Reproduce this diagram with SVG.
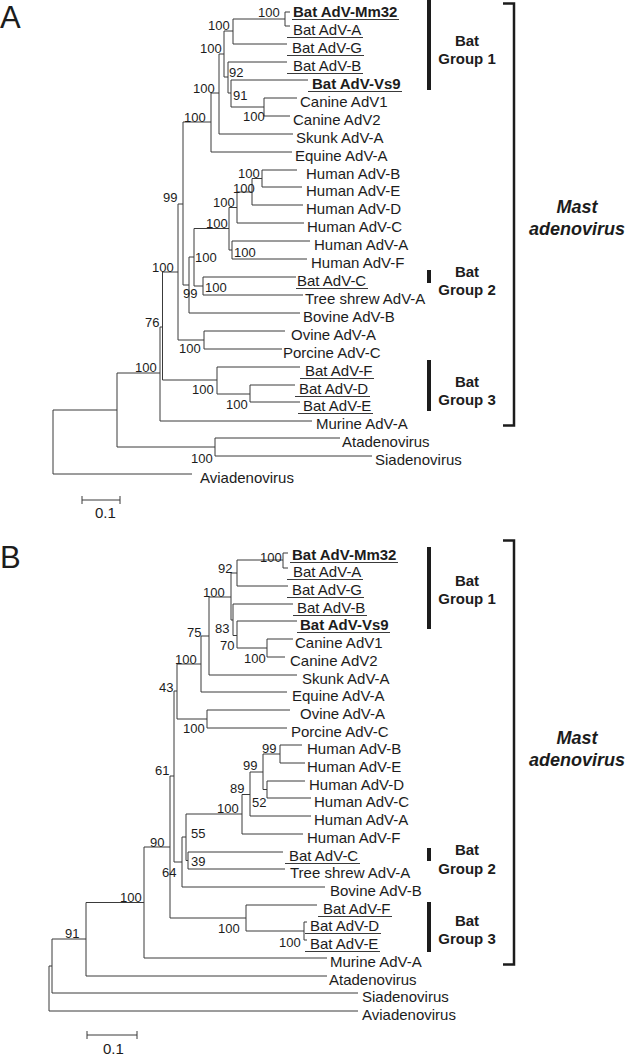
<svg xmlns="http://www.w3.org/2000/svg" width="625" height="1055" viewBox="0 0 625 1055">
<style>
text{font-family:"Liberation Sans",Arial,sans-serif;fill:#1c1c1c}
.l{font-size:15px}
.lb{font-size:15px;font-weight:bold}
.bs{font-size:13px}
.g{font-size:15px;font-weight:bold;text-anchor:middle}
.m{font-size:18px;font-weight:bold;font-style:italic;text-anchor:middle}
.p{font-size:31px}
.br{fill:none;stroke:#3a3a3a;stroke-width:1}
.ul{stroke:#3a3a3a;stroke-width:1}
.bar{fill:#1c1c1c}
.bk{fill:none;stroke:#1c1c1c;stroke-width:2.5}
</style>
<rect width="625" height="1055" fill="#fff"/>
<text class="p" x="0" y="28">A</text>
<text class="p" x="0" y="568">B</text>

<g id="connectors">
<path class="br" d="M53 410V474M53 474H192M53 410H117M117 373V447M117 447H215M215 438V456M215 438H340M215 456H372M117 373H160M160 327V421M160 421H312M160 327H162.5M162.5 272V380M162.5 380H217M217 367V394M217 367H300M217 394H250M250 385V402M250 385H295M250 402H300M162.5 272H178M178 204V340M178 340H204M204 331V349M204 331H285M204 349H282M178 204H183M183 122V285M183 285H189M189 257V313M189 313H300M189 257H194M194 228.5V286M194 286H203M203 277V295M203 277H296M203 295H303M194 228.5H229M229 207.5V250M229 250H232M232 241V259M232 241H310M232 259H307M229 207.5H237M237 192V223M237 223H304M237 192H252M252 178.5V205M252 205H303M252 178.5H262M262 170V187M262 170H297M262 187H302M183 122H211M211 93V152M211 152H292M211 93H219M219 54V134M219 134H293M219 54H224M224 31V77M224 31H233M233 19V44M233 44H287M233 19H285M285 12V26M285 12H290M285 26H290M224 77H228M228 62V93M228 62H287M228 93H231M231 80V107M231 80H308M231 107H264M264 98V116M264 98H297M264 116H290"/>
<path class="br" d="M49 966V1011M49 1011H358M49 966H52M52 939V993M52 993H358M52 939H86M86 902.5V976M86 976H327M86 902.5H144M144 847V958M144 958H327M144 847H170M170 776V918M170 918H246M246 905V931M246 905H317M246 931H304M304 922V940M304 922H307M304 940H307M170 776H174M174 691V862M174 862H182M182 837V887M182 887H325M182 837H186M186 814V860.5M186 860.5H188M188 852V869M188 852H283M188 869H285M186 814H242M242 794.5V834M242 834H303M242 794.5H250M250 772V816M250 816H311M250 772H263M263 754V789.5M263 754H280M280 745V763M280 745H302M280 763H305M263 789.5H267M267 781V798M267 781H305M267 798H311M174 691H177M177 664V719M177 719H207M207 710V728M207 710H290M207 728H287M177 664H201M201 636V692M201 692H287M201 636H209M209 597V675M209 675H297M209 597H231M231 573V620M231 573H237M237 560V586M237 586H288M237 560H283M283 553V568M283 553H288M283 568H288M231 620H233M233 604V635.5M233 604H293M233 635.5H237M237 621V648M237 621H297M237 648H267M267 639V657M267 639H293M267 657H285"/>
</g>

<g id="scalebars">
<path class="br" d="M82 500H120M82 496V504M120 496V504"/>
<text class="l" x="95" y="518">0.1</text>
<path class="br" d="M87 1035H137M87 1031V1039M137 1031V1039"/>
<text class="l" x="103" y="1054">0.1</text>
</g>

<g id="treeA-leaves">
<g id="a-mm32"><text class="lb" x="293" y="17">Bat AdV-Mm32</text><line class="ul" x1="292" y1="19.5" x2="399" y2="19.5"/></g>
<g id="a-adva"><text class="l" x="293" y="35">Bat AdV-A</text><line class="ul" x1="287" y1="37.5" x2="363" y2="37.5"/></g>
<g id="a-advg"><text class="l" x="292" y="53">Bat AdV-G</text><line class="ul" x1="287" y1="55.5" x2="364" y2="55.5"/></g>
<g id="a-advb"><text class="l" x="293" y="71">Bat AdV-B</text><line class="ul" x1="287" y1="73.5" x2="363" y2="73.5"/></g>
<g id="a-vs9"><text class="lb" x="312" y="89">Bat AdV-Vs9</text><line class="ul" x1="308" y1="91.5" x2="402" y2="91.5"/></g>
<g id="a-can1"><text class="l" x="300" y="107">Canine AdV1</text></g>
<g id="a-can2"><text class="l" x="293" y="125">Canine AdV2</text></g>
<g id="a-skunk"><text class="l" x="296" y="143">Skunk AdV-A</text></g>
<g id="a-equine"><text class="l" x="295" y="161">Equine AdV-A</text></g>
<g id="a-hb"><text class="l" x="306" y="179">Human AdV-B</text></g>
<g id="a-he"><text class="l" x="306" y="196">Human AdV-E</text></g>
<g id="a-hd"><text class="l" x="306" y="214">Human AdV-D</text></g>
<g id="a-hc"><text class="l" x="307" y="232">Human AdV-C</text></g>
<g id="a-ha"><text class="l" x="314" y="250">Human AdV-A</text></g>
<g id="a-hf"><text class="l" x="311" y="268">Human AdV-F</text></g>
<g id="a-batc"><text class="l" x="297" y="286">Bat AdV-C</text><line class="ul" x1="296" y1="288.5" x2="368" y2="288.5"/></g>
<g id="a-ts"><text class="l" x="305" y="304">Tree shrew AdV-A</text></g>
<g id="a-bovine"><text class="l" x="303" y="322">Bovine AdV-B</text></g>
<g id="a-ovine"><text class="l" x="291" y="340">Ovine AdV-A</text></g>
<g id="a-porcine"><text class="l" x="283" y="358">Porcine AdV-C</text></g>
<g id="a-batf"><text class="l" x="305" y="376">Bat AdV-F</text><line class="ul" x1="300" y1="378.5" x2="374" y2="378.5"/></g>
<g id="a-batd"><text class="l" x="299" y="394">Bat AdV-D</text><line class="ul" x1="295" y1="396.5" x2="370" y2="396.5"/></g>
<g id="a-bate"><text class="l" x="303" y="411">Bat AdV-E</text><line class="ul" x1="298" y1="413.5" x2="373" y2="413.5"/></g>
<g id="a-murine"><text class="l" x="316" y="429">Murine AdV-A</text></g>
<g id="a-atad"><text class="l" x="342" y="447">Atadenovirus</text></g>
<g id="a-siad"><text class="l" x="375" y="465">Siadenovirus</text></g>
<g id="a-aviad"><text class="l" x="200" y="483">Aviadenovirus</text></g>
</g>

<g id="treeA-support">
<text class="bs" x="258" y="17">100</text>
<text class="bs" x="208" y="30">100</text>
<text class="bs" x="200" y="53">100</text>
<text class="bs" x="229" y="77">92</text>
<text class="bs" x="233" y="100">91</text>
<text class="bs" x="243" y="121">100</text>
<text class="bs" x="193" y="93">100</text>
<text class="bs" x="184" y="122">100</text>
<text class="bs" x="163" y="202">99</text>
<text class="bs" x="238" y="178">100</text>
<text class="bs" x="233" y="193">100</text>
<text class="bs" x="213" y="207">100</text>
<text class="bs" x="206" y="228">100</text>
<text class="bs" x="234" y="257">100</text>
<text class="bs" x="195" y="262">100</text>
<text class="bs" x="205" y="292">100</text>
<text class="bs" x="183" y="298">99</text>
<text class="bs" x="152" y="272">100</text>
<text class="bs" x="145" y="327">76</text>
<text class="bs" x="179" y="353">100</text>
<text class="bs" x="135" y="372">100</text>
<text class="bs" x="192" y="394">100</text>
<text class="bs" x="226" y="409">100</text>
<text class="bs" x="191" y="463">100</text>
</g>

<g id="treeA-groups">
<g id="a-group1"><rect class="bar" x="427" y="0" width="4" height="90"/><text class="g" x="467" y="46">Bat</text><text class="g" x="467" y="64">Group 1</text></g>
<g id="a-group2"><rect class="bar" x="427" y="270" width="4" height="13"/><text class="g" x="467" y="277">Bat</text><text class="g" x="467" y="295">Group 2</text></g>
<g id="a-group3"><rect class="bar" x="427" y="360" width="4" height="51"/><text class="g" x="467" y="387">Bat</text><text class="g" x="467" y="405">Group 3</text></g>
<g id="a-mast"><path class="bk" d="M503 3.5H514V425.5H503"/><text class="m" x="577" y="213">Mast</text><text class="m" x="577" y="235">adenovirus</text></g>
</g>

<g id="treeB-leaves">
<g id="b-mm32"><text class="lb" x="292" y="560">Bat AdV-Mm32</text><line class="ul" x1="290" y1="562.5" x2="398" y2="562.5"/></g>
<g id="b-adva"><text class="l" x="293" y="577">Bat AdV-A</text><line class="ul" x1="287" y1="579.5" x2="363" y2="579.5"/></g>
<g id="b-advg"><text class="l" x="292" y="595">Bat AdV-G</text><line class="ul" x1="287" y1="597.5" x2="364" y2="597.5"/></g>
<g id="b-advb"><text class="l" x="297" y="613">Bat AdV-B</text><line class="ul" x1="293" y1="615.5" x2="367" y2="615.5"/></g>
<g id="b-vs9"><text class="lb" x="300" y="630">Bat AdV-Vs9</text><line class="ul" x1="297" y1="632.5" x2="390" y2="632.5"/></g>
<g id="b-can1"><text class="l" x="295" y="648">Canine AdV1</text></g>
<g id="b-can2"><text class="l" x="290" y="666">Canine AdV2</text></g>
<g id="b-skunk"><text class="l" x="302" y="684">Skunk AdV-A</text></g>
<g id="b-equine"><text class="l" x="292" y="701">Equine AdV-A</text></g>
<g id="b-ovine"><text class="l" x="300" y="719">Ovine AdV-A</text></g>
<g id="b-porcine"><text class="l" x="291" y="737">Porcine AdV-C</text></g>
<g id="b-hb"><text class="l" x="307" y="754">Human AdV-B</text></g>
<g id="b-he"><text class="l" x="307" y="772">Human AdV-E</text></g>
<g id="b-hd"><text class="l" x="309" y="790">Human AdV-D</text></g>
<g id="b-hc"><text class="l" x="314" y="807">Human AdV-C</text></g>
<g id="b-ha"><text class="l" x="314" y="825">Human AdV-A</text></g>
<g id="b-hf"><text class="l" x="307" y="843">Human AdV-F</text></g>
<g id="b-batc"><text class="l" x="289" y="861">Bat AdV-C</text><line class="ul" x1="285" y1="863.5" x2="360" y2="863.5"/></g>
<g id="b-ts"><text class="l" x="290" y="878">Tree shrew AdV-A</text></g>
<g id="b-bovine"><text class="l" x="330" y="896">Bovine AdV-B</text></g>
<g id="b-batf"><text class="l" x="323" y="914">Bat AdV-F</text><line class="ul" x1="318" y1="916.5" x2="392" y2="916.5"/></g>
<g id="b-batd"><text class="l" x="310" y="931">Bat AdV-D</text><line class="ul" x1="305" y1="933.5" x2="381" y2="933.5"/></g>
<g id="b-bate"><text class="l" x="310" y="949">Bat AdV-E</text><line class="ul" x1="305" y1="951.5" x2="380" y2="951.5"/></g>
<g id="b-murine"><text class="l" x="330" y="967">Murine AdV-A</text></g>
<g id="b-atad"><text class="l" x="329" y="985">Atadenovirus</text></g>
<g id="b-siad"><text class="l" x="362" y="1002">Siadenovirus</text></g>
<g id="b-aviad"><text class="l" x="362" y="1020">Aviadenovirus</text></g>
</g>

<g id="treeB-support">
<text class="bs" x="260" y="562">100</text>
<text class="bs" x="218" y="573">92</text>
<text class="bs" x="203" y="597">100</text>
<text class="bs" x="215" y="633">83</text>
<text class="bs" x="220" y="650">70</text>
<text class="bs" x="244" y="663">100</text>
<text class="bs" x="187" y="637">75</text>
<text class="bs" x="175" y="664">100</text>
<text class="bs" x="159" y="692">43</text>
<text class="bs" x="183" y="733">100</text>
<text class="bs" x="262" y="753">99</text>
<text class="bs" x="243" y="770">99</text>
<text class="bs" x="252" y="807">52</text>
<text class="bs" x="230" y="793">89</text>
<text class="bs" x="217" y="813">100</text>
<text class="bs" x="155" y="775">61</text>
<text class="bs" x="191" y="838">55</text>
<text class="bs" x="150" y="847">90</text>
<text class="bs" x="191" y="866">39</text>
<text class="bs" x="162" y="877">64</text>
<text class="bs" x="120" y="902">100</text>
<text class="bs" x="65" y="938">91</text>
<text class="bs" x="218" y="933">100</text>
<text class="bs" x="279" y="947">100</text>
</g>

<g id="treeB-groups">
<g id="b-group1"><rect class="bar" x="427" y="547" width="4" height="82"/><text class="g" x="467" y="586">Bat</text><text class="g" x="467" y="604">Group 1</text></g>
<g id="b-group2"><rect class="bar" x="427" y="848" width="4" height="13"/><text class="g" x="467" y="855">Bat</text><text class="g" x="467" y="873.5">Group 2</text></g>
<g id="b-group3"><rect class="bar" x="427" y="902" width="4" height="50"/><text class="g" x="467" y="926">Bat</text><text class="g" x="467" y="944">Group 3</text></g>
<g id="b-mast"><path class="bk" d="M503 540.5H514V964.5H503"/><text class="m" x="577" y="743.5">Mast</text><text class="m" x="577" y="766">adenovirus</text></g>
</g>
</svg>
